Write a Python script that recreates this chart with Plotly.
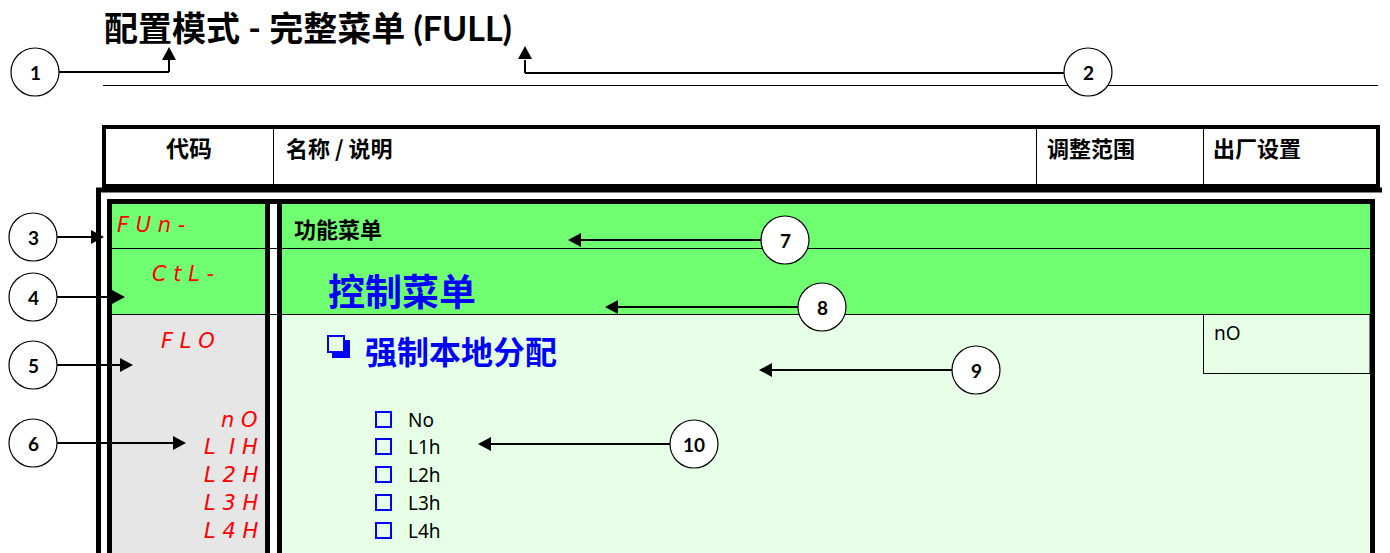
import plotly.graph_objects as go

# ---------------- content ----------------
title_text = "配置模式 - 完整菜单 (FULL)"
header_labels = ["代码", "名称 / 说明", "调整范围", "出厂设置"]
menu_codes = ["F U n -", "C t L -", "F L O"]
menu_names = ["功能菜单", "控制菜单", "强制本地分配"]
option_codes = ["n O", "L  I H", "L 2 H", "L 3 H", "L 4 H"]
option_labels = ["No", "L1h", "L2h", "L3h", "L4h"]
factory_value = "nO"
callout_numbers = ["1", "2", "3", "4", "5", "6", "7", "8", "9", "10"]

# ---------------- layout constants (pixels) ----------------
W, H = 1390, 553
PAGE_OFFSET = 8  # default page margin; axes ranges compensate so data = page pixel
GREEN = "#70FF70"
LIGHT_GREEN = "#E6FFE6"
GRAY = "#E6E6E6"
RED = "#FF0000"
BLUE = "#0000FF"
CJK = "Noto Sans CJK SC"

header_cols_x = [273.5, 1036.5, 1203.5]
header_text_x = [189, 285, 1046, 1212]
option_y = [420, 447, 475, 503, 531]

# callouts: circle center, polyline path (from circle), arrow tip, direction
callouts = [
    ((35, 72), [(59, 72), (169, 72), (169, 60)], (169, 47), "up"),
    ((1088, 72), [(1064, 73), (525, 73), (525, 60)], (525, 46), "up"),
    ((33, 237), [(57, 237), (92, 237)], (104, 237), "right"),
    ((33, 297), [(57, 297), (113, 297)], (125, 297), "right"),
    ((33, 365), [(57, 365), (121, 365)], (133, 365), "right"),
    ((33, 443), [(57, 443), (174, 443)], (186, 443), "right"),
    ((785, 240), [(761, 240), (580, 240)], (568, 240), "left"),
    ((822, 307), [(798, 307), (617, 307)], (605, 307), "left"),
    ((976, 370), [(952, 370), (771, 370)], (759, 370), "left"),
    ((694, 444), [(670, 444), (490, 444)], (478, 444), "left"),
]

fig = go.Figure()
shapes = []
ann = []


def rect(x0, y0, x1, y1, fill=None, lc="black", lw=0):
    shapes.append(dict(type="rect", x0=x0, y0=y0, x1=x1, y1=y1, xref="x", yref="y",
                       fillcolor=fill if fill else "rgba(0,0,0,0)",
                       line=dict(color=lc, width=lw)))


def line(x0, y0, x1, y1, lw=1, color="black"):
    shapes.append(dict(type="line", x0=x0, y0=y0, x1=x1, y1=y1, xref="x", yref="y",
                       line=dict(color=color, width=lw)))


def text(x, y, s, size, color="black", xa="left", family=CJK, ya="middle"):
    ann.append(dict(x=x, y=y, xref="x", yref="y", text=s, showarrow=False,
                    xanchor=xa, yanchor=ya, borderpad=0,
                    font=dict(size=size, color=color, family=family)))


def arrowhead(tip, direction, length=13, half=7):
    tx, ty = tip
    if direction == "up":
        pts = [(tx, ty), (tx - half, ty + length), (tx + half, ty + length)]
    elif direction == "right":
        pts = [(tx, ty), (tx - length, ty - half), (tx - length, ty + half)]
    else:
        pts = [(tx, ty), (tx + length, ty - half), (tx + length, ty + half)]
    p = "M {} {} L {} {} L {} {} Z".format(*[v for pt in pts for v in pt])
    shapes.append(dict(type="path", path=p, xref="x", yref="y",
                       fillcolor="black", line=dict(color="black", width=0)))


# ---------------- title ----------------
text(103, 27, "<b>" + title_text + "</b>", 34, family="Lato, Noto Sans CJK SC")
line(103, 85.5, 1378, 85.5, lw=1)

# ---------------- header table ----------------
rect(104, 127, 1378, 186, fill="white", lw=4)
for x in header_cols_x:
    line(x, 129, x, 185, lw=1)
text(header_text_x[0], 147, "<b>" + header_labels[0] + "</b>", 23, xa="center")
for i in range(1, 4):
    text(header_text_x[i], 147, "<b>" + header_labels[i] + "</b>", 22)

# ---------------- main body ----------------
rect(98.5, 190, 1384.5, 600, fill="white", lw=5)
# row backgrounds
rect(109.5, 201.5, 1372.5, 314, fill=GREEN, lw=0)
rect(109.5, 314, 267, 600, fill=GRAY, lw=0)
rect(280, 314, 1372.5, 600, fill=LIGHT_GREEN, lw=0)
# white gap of double line
rect(270, 203, 277, 600, fill="white", lw=0)
# row separators
line(110, 248.5, 1372, 248.5, lw=1)
line(110, 314.5, 1372, 314.5, lw=1)
# factory setting small box
rect(1203.5, 314.5, 1370, 373.5, lw=1)
# inner box border and double vertical
rect(109.5, 201.5, 1372.5, 600, lw=5)
line(267.5, 203, 267.5, 600, lw=5)
line(279.5, 203, 279.5, 600, lw=5)

# codes (7-seg like, red italic)
seg_font = "DejaVu Sans"
text(116, 225, "<i>" + menu_codes[0] + "</i>", 21, color=RED, family=seg_font)
text(151, 274, "<i>" + menu_codes[1] + "</i>", 21, color=RED, family=seg_font)
text(160, 341, "<i>" + menu_codes[2] + "</i>", 21, color=RED, family=seg_font)
for c, y in zip(option_codes, option_y):
    text(259, y, "<i>" + c + "</i>", 21, color=RED, xa="right", family=seg_font)

# names
text(293, 228, "<b>" + menu_names[0] + "</b>", 22)
text(327, 290, "<b>" + menu_names[1] + "</b>", 37, color=BLUE)
text(364, 350, "<b>" + menu_names[2] + "</b>", 32, color=BLUE)
# ❑ glyph drawn as box with shadow
rect(328, 336, 344, 352, lw=2, lc=BLUE)
rect(344, 340, 350, 358, fill=BLUE, lw=0)
rect(332, 352, 350, 358, fill=BLUE, lw=0)

# option list
for lab, y in zip(option_labels, option_y):
    rect(376, y - 8, 391, y + 7, lw=2, lc=BLUE)
    text(407, y, lab, 19, family="Noto Sans")

text(1213, 333, factory_value, 19, family="Noto Sans")

# ---------------- callouts ----------------
for num, (center, path, tip, d) in zip(callout_numbers, callouts):
    for (a, b) in zip(path[:-1], path[1:]):
        line(a[0], a[1], b[0], b[1], lw=2)
    arrowhead(tip, d)
    cx, cy = center
    shapes.append(dict(type="circle", x0=cx - 24, y0=cy - 24, x1=cx + 24, y1=cy + 24,
                       xref="x", yref="y", fillcolor="white",
                       line=dict(color="black", width=1.2)))
    text(cx, cy, "<b>" + num + "</b>", 19, xa="center", family="Lato")

fig.update_layout(
    width=W, height=H, autosize=False,
    margin=dict(l=0, r=0, t=0, b=0),
    paper_bgcolor="white", plot_bgcolor="white",
    xaxis=dict(range=[PAGE_OFFSET, W + PAGE_OFFSET], visible=False, fixedrange=True),
    yaxis=dict(range=[H + PAGE_OFFSET, PAGE_OFFSET], visible=False, fixedrange=True),
    shapes=shapes, annotations=ann, showlegend=False,
)
fig.write_html("out.html")
